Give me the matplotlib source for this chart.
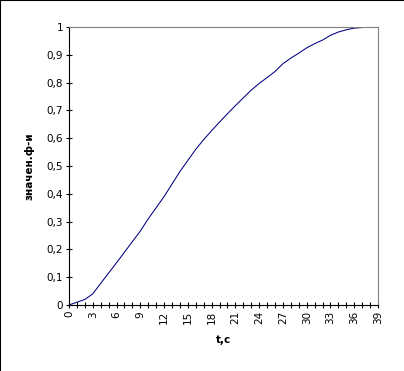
import matplotlib
matplotlib.use("Agg")
import matplotlib.pyplot as plt
from matplotlib.lines import Line2D
from matplotlib.ticker import MultipleLocator, FuncFormatter

t = list(range(40))
values = [0.0, 0.01, 0.02, 0.04, 0.078, 0.115, 0.152, 0.19, 0.228, 0.266,
          0.31, 0.35, 0.39, 0.435, 0.48, 0.52, 0.56, 0.595, 0.627, 0.658,
          0.688, 0.717, 0.745, 0.773, 0.797, 0.818, 0.84, 0.868, 0.888, 0.906,
          0.925, 0.94, 0.953, 0.97, 0.982, 0.99, 0.996, 0.998, 0.999, 1.0]
xlabel = "t,c"
ylabel = "значен.ф-и"

plt.rcParams['font.family'] = ['DejaVu Sans']
fig = plt.figure(figsize=(4.04, 3.71), dpi=100)
ax = fig.add_axes([69/404, 1-305/371, 309/404, 278/371])
ax.plot(t, values, color='#000080', lw=0.75)
ax.set_xlim(0, 39)
ax.set_ylim(0, 1)
ax.xaxis.set_major_locator(MultipleLocator(3))
ax.xaxis.set_minor_locator(MultipleLocator(1))
ax.yaxis.set_major_locator(MultipleLocator(0.1))
ax.yaxis.set_major_formatter(FuncFormatter(lambda v, p: ('%g' % round(v, 1)).replace('.', ',')))
ax.tick_params(axis='x', which='both', direction='inout', length=4.5, width=0.8, labelsize=7.5, pad=2, labelrotation=90)
ax.tick_params(axis='y', which='both', direction='inout', length=4.5, width=0.8, labelsize=7.5, pad=2)
for s in ['top', 'right']:
    ax.spines[s].set_color('#808080')
for s in ['left', 'bottom']:
    ax.spines[s].set_color('black')
for s in ax.spines.values():
    s.set_linewidth(0.8)
ax.set_xlabel(xlabel, fontsize=7.5, fontweight='bold', labelpad=8)
ax.set_ylabel(ylabel, fontsize=7.5, fontweight='bold', labelpad=9)
fig.add_artist(Line2D([0, 1], [1, 1], transform=fig.transFigure, color='black', lw=1.5))
fig.add_artist(Line2D([0, 0], [0, 1], transform=fig.transFigure, color='black', lw=1.5))
fig.savefig('out.png', dpi=100)
